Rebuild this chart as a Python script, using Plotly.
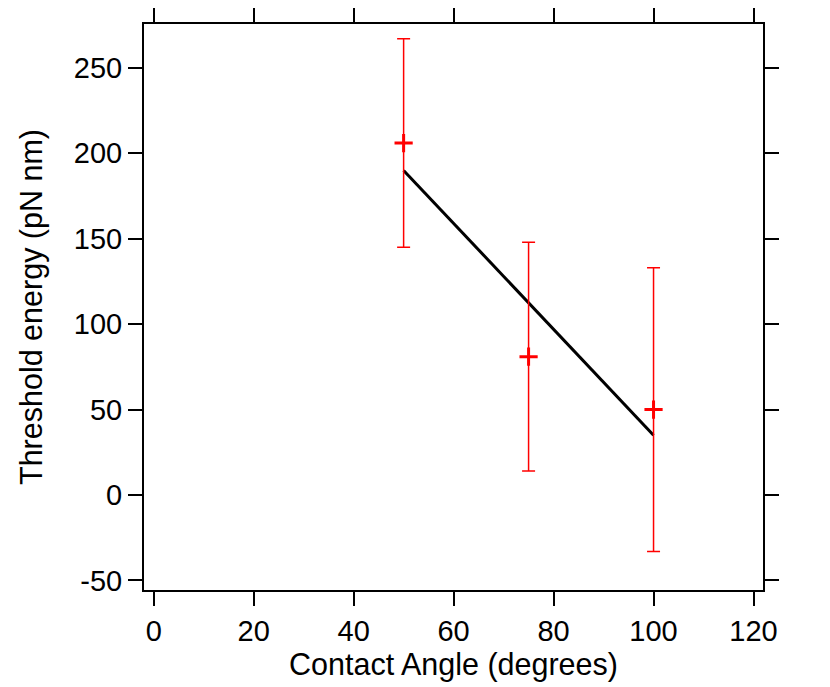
import plotly.graph_objects as go

angle = [50, 75, 100]
energy = [206, 81, 50]
err = [61, 67, 83]
fit_x = [50, 100]
fit_y = [190, 35]

x_ticks = [0, 20, 40, 60, 80, 100, 120]
y_ticks = [-50, 0, 50, 100, 150, 200, 250]
y_ticktext = ["-50", "0", "50", "100", "150", "200", "250"]

fig = go.Figure()
fig.add_trace(go.Scatter(x=fit_x, y=fit_y, mode="lines",
                         line=dict(color="black", width=3), showlegend=False))
fig.add_trace(go.Scatter(x=angle, y=energy, mode="markers",
                         marker=dict(symbol="cross-thin", size=13, color="red",
                                     line=dict(color="red", width=3)),
                         error_y=dict(type="data", array=err, visible=True,
                                      color="red", thickness=1.5, width=6.5),
                         showlegend=False))

fam = "Liberation Sans, Arial, sans-serif"
tickfont = dict(family=fam, size=29, color="black")
titlefont = dict(family=fam, size=30.5, color="black")
axis_common = dict(showgrid=False, zeroline=False, showline=True, linecolor="black",
                   linewidth=2, mirror="allticks", ticks="outside", ticklen=14,
                   tickwidth=1.5, tickcolor="black", tickfont=tickfont,
                   automargin=False)

fig.update_xaxes(range=[-1.94, 121.9], tickvals=x_ticks,
                 title=dict(text="Contact Angle (degrees)", font=titlefont, standoff=2),
                 **axis_common)
fig.update_yaxes(range=[-55.6, 275.7], tickvals=y_ticks, ticktext=y_ticktext,
                 title=dict(text="Threshold energy (pN nm)", font=titlefont, standoff=22),
                 **axis_common)

fig.update_layout(width=822, height=679, margin=dict(l=136, r=67, t=16, b=97),
                  plot_bgcolor="white", paper_bgcolor="white", font=tickfont)

fig.write_html("out.html")
